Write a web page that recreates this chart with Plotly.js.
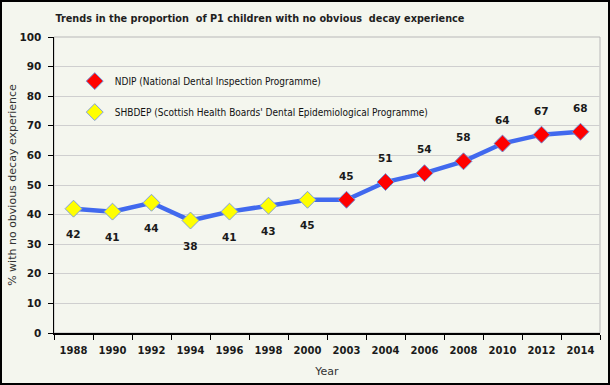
<!DOCTYPE html>
<html><head><meta charset="utf-8">
<script src="https://cdn.plot.ly/plotly-3.0.1.min.js"></script>
<style>
html,body{margin:0;padding:0;background:#f4f6ee;}
#wrap{position:relative;width:610px;height:385px;}
#chart{width:610px;height:385px;}
#frame{position:absolute;left:0;top:0;width:610px;height:385px;border:2px solid #000;box-sizing:border-box;pointer-events:none;}
</style></head>
<body>
<div id="wrap"><div id="chart"></div><div id="frame"></div></div>
<script>
const years = ['1988','1990','1992','1994','1996','1998','2000','2003','2004','2006','2008','2010','2012','2014'];
const values = [42,41,44,38,41,43,45,45,51,54,58,64,67,68];
const shbdepYears = ['1988','1990','1992','1994','1996','1998','2000'];
const shbdepValues = [42,41,44,38,41,43,45];
const ndipYears = ['2003','2004','2006','2008','2010','2012','2014'];
const ndipValues = [45,51,54,58,64,67,68];
const yTicks = [0,10,20,30,40,50,60,70,80,90,100];

const labelFont = {family:'DejaVu Sans', size:10.5, color:'#1a1a1a'};
const annotations = [];
shbdepYears.forEach((y,i)=>annotations.push({x:years.indexOf(y),y:shbdepValues[i],xref:'x',yref:'y',text:'<b>'+shbdepValues[i]+'</b>',showarrow:false,yshift:-25,font:labelFont}));
ndipYears.forEach((y,i)=>annotations.push({x:years.indexOf(y),y:ndipValues[i],xref:'x',yref:'y',text:'<b>'+ndipValues[i]+'</b>',showarrow:false,yshift:24,font:labelFont}));

const traces = [
  {x:years,y:values,type:'scatter',mode:'lines',line:{color:'#4169ee',width:4.5},showlegend:false,hoverinfo:'skip'},
  {x:ndipYears,y:ndipValues,type:'scatter',mode:'markers',name:'NDIP (National Dental Inspection Programme)',legendgroup:'a',
   marker:{symbol:'diamond',size:13,color:'#ff0000',line:{color:'#6f8fd8',width:1}}},
  {x:shbdepYears,y:shbdepValues,type:'scatter',mode:'markers',name:"SHBDEP (Scottish Health Boards' Dental Epidemiological Programme)",legendgroup:'b',
   marker:{symbol:'diamond',size:13,color:'#ffff00',line:{color:'#7f9fdc',width:1}}}
];

const layout = {
  width:610,height:385,
  paper_bgcolor:'#f4f6ee',plot_bgcolor:'#f4f6ee',
  margin:{l:54,r:10,t:37,b:52},
  title:{text:'<b>Trends in the proportion  of P1 children with no obvious  decay experience</b>',x:260/610,xanchor:'center',xref:'container',y:0.953,yanchor:'middle',
    font:{family:'DejaVu Sans Condensed, DejaVu Sans',size:10.8,color:'#1f1f1f'}},
  xaxis:{type:'category',range:[-0.5,13.5],autorange:false,
    showline:true,linecolor:'#000',linewidth:1.5,ticks:'outside',tickson:'boundaries',ticklen:5,tickcolor:'#000',
    showgrid:false,zeroline:false,ticklabelstandoff:7,
    tickfont:{family:'DejaVu Sans',size:10,color:'#1a1a1a',weight:'bold'},
    title:{text:'Year',font:{family:'DejaVu Sans',size:11,color:'#333'},standoff:13}},
  yaxis:{range:[0,100],autorange:false,tickvals:yTicks,showline:true,linecolor:'#000',linewidth:1.5,ticks:'outside',ticklen:5,tickcolor:'#000',
    showgrid:true,gridcolor:'#cfcfcf',gridwidth:1,zeroline:false,ticklabelstandoff:4,
    tickfont:{family:'DejaVu Sans',size:10.5,color:'#1a1a1a',weight:'bold'},
    title:{text:'% with no obvious decay experience',font:{family:'DejaVu Sans',size:11,color:'#333'},standoff:0}},
  legend:{x:0.038,y:0.9,xanchor:'left',yanchor:'top',bgcolor:'rgba(0,0,0,0)',tracegroupgap:12,
    font:{family:'DejaVu Sans Condensed, DejaVu Sans',size:10,color:'#111'},itemwidth:30},
  shapes:[{type:'rect',xref:'paper',yref:'paper',x0:0,x1:1,y0:0,y1:1,line:{color:'#b8b8b8',width:1},layer:'below'}],
  annotations:annotations
};
Plotly.newPlot('chart',traces,layout,{displayModeBar:false,staticPlot:true});
</script>
</body></html>
